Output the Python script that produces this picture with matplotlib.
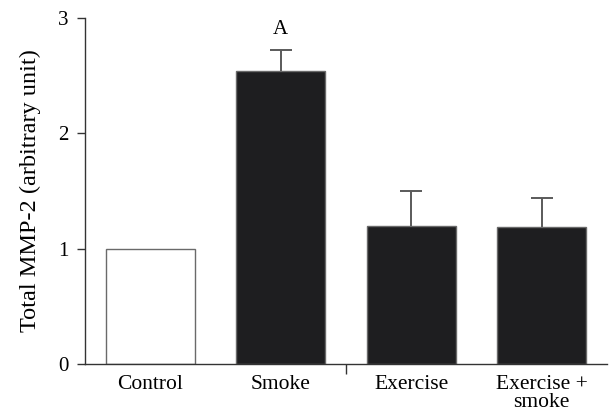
import matplotlib
matplotlib.use("Agg")
import matplotlib.pyplot as plt
import numpy as np

categories = ["Control", "Smoke", "Exercise", "Exercise +\nsmoke"]
values = [1.00, 2.54, 1.20, 1.19]
errors = [0.0, 0.18, 0.30, 0.25]
bar_colors = ["white", "#1e1e20", "#1e1e20", "#1e1e20"]
y_ticks = [0, 1, 2, 3]
annotation = "A"

plt.rcParams['font.family'] = ['Liberation Serif', 'DejaVu Serif']

fig = plt.figure(figsize=(6.10, 4.12), dpi=100)
ax = fig.add_axes([85/610, 1-364/412, (607-85)/610, (364-18)/412])

x = np.arange(len(categories))
ax.bar(x, values, width=0.68, color=bar_colors, edgecolor="#6a6a6a", linewidth=1.0, zorder=2)
cap_half = 0.085
for xi, v, e in zip(x, values, errors):
    if e > 0:
        ax.vlines(xi, v, v + e, colors="#5a5a5a", linewidth=1.4, zorder=3)
        ax.hlines(v + e, xi - cap_half, xi + cap_half, colors="#5a5a5a", linewidth=1.4, zorder=3)

ax.text(x[1], values[1] + errors[1] + 0.1, annotation, ha="center", va="bottom", fontsize=15)

ax.set_xlim(-0.5, 3.5)
ax.set_ylim(0, 3)
ax.set_yticks(y_ticks)
ax.set_yticklabels([str(t) for t in y_ticks], fontsize=15)
ax.set_xticks(x)
ax.set_xticklabels(categories, fontsize=15.5, linespacing=0.9)
ax.set_xticks([1.5], minor=True)
ax.tick_params(axis="x", which="major", length=0, pad=8)
ax.tick_params(axis="x", which="minor", length=7, width=1.0, color="#333333", direction="out")
ax.tick_params(axis="y", length=6, width=1.0, color="#333333", pad=6)
ax.set_ylabel("Total MMP-2 (arbitrary unit)", fontsize=17.5, labelpad=12)

for s in ["top", "right"]:
    ax.spines[s].set_visible(False)
for s in ["left", "bottom"]:
    ax.spines[s].set_linewidth(1.0)
    ax.spines[s].set_color("#333333")

fig.savefig("out.png", dpi=100)
